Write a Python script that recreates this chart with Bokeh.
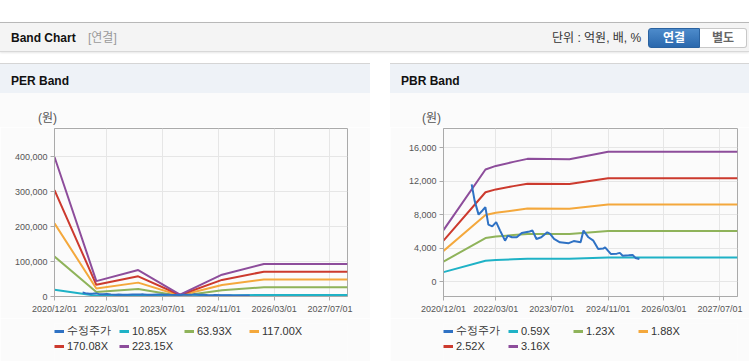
import pandas as pd
from bokeh.plotting import figure
from bokeh.models import (ColumnDataSource, FixedTicker, DatetimeTickFormatter,
                          NumeralTickFormatter, Range1d, Legend, LegendItem, Div)
from bokeh.layouts import column, row
from bokeh.embed import file_html
from bokeh.resources import INLINE

# ---------------- data ----------------
x_tick_dates = ["2020-12-01", "2022-03-01", "2023-07-01", "2024-11-01", "2026-03-01", "2027-07-01"]
x_start, x_end = "2020-12-01", "2027-12-01"

price_dates = ["2021-08-03", "2021-08-28", "2021-10-02", "2021-11-05", "2021-11-30", "2021-12-26",
               "2022-01-29", "2022-03-04", "2022-04-07", "2022-05-20", "2022-06-14", "2022-07-19",
               "2022-08-30", "2022-10-12", "2022-11-15", "2022-12-19", "2023-01-14", "2023-02-17",
               "2023-03-31", "2023-05-22", "2023-06-16", "2023-07-20", "2023-09-09", "2023-11-25",
               "2024-01-07", "2024-03-07", "2024-04-01", "2024-05-14", "2024-06-26", "2024-08-07",
               "2024-09-19", "2024-10-06", "2024-11-26", "2025-01-16", "2025-02-11", "2025-03-08",
               "2025-04-29", "2025-06-02", "2025-06-27", "2025-07-31"]
price_values = [11600, 9700, 8000, 8500, 8900, 6800,
                6600, 7100, 6100, 4900, 5500, 5300,
                5300, 5800, 5900, 6000, 6100, 5100,
                5300, 5900, 5700, 5100, 4700, 4600,
                4850, 4700, 6100, 5300, 4900, 3900,
                3950, 4100, 3300, 3350, 3440, 3100,
                3150, 3200, 2840, 2720]

per_dates = ["2020-12-01", "2021-12-01", "2022-12-01", "2023-12-01", "2024-12-01", "2025-12-01", "2027-12-01"]
per_labels = ["10.85X", "63.93X", "117.00X", "170.08X", "223.15X"]
per_1085 = [19400, 2150, 3700, 300, 3050, 4550, 4550]
per_6393 = [114500, 12600, 21700, 1600, 17900, 26700, 26700]
per_11700 = [209800, 23100, 39800, 2900, 32800, 48900, 48900]
per_17008 = [304900, 33600, 57800, 4300, 47600, 71100, 71100]
per_22315 = [400100, 44100, 75900, 5600, 62500, 93300, 93300]
per_yticks = [0, 100000, 200000, 300000, 400000]

pbr_dates = ["2020-12-01", "2021-12-01", "2022-03-01", "2022-08-01", "2022-12-01", "2023-12-01", "2024-11-01", "2027-12-01"]
pbr_labels = ["0.59X", "1.23X", "1.88X", "2.52X", "3.16X"]
pbr_059 = [1150, 2500, 2580, 2670, 2740, 2730, 2890, 2890]
pbr_123 = [2400, 5210, 5380, 5560, 5700, 5690, 6050, 6050]
pbr_188 = [3680, 7960, 8220, 8500, 8720, 8690, 9220, 9220]
pbr_252 = [4900, 10670, 11010, 11400, 11680, 11650, 12350, 12350]
pbr_316 = [6150, 13380, 13810, 14290, 14650, 14610, 15490, 15490]
pbr_yticks = [0, 4000, 8000, 12000, 16000]

price_label = "수정주가"
unit_label = "(원)"
band_colors = ["#1fb2c6", "#8fb35a", "#f4a83c", "#cc3a2e", "#8d4d9b"]
price_color = "#2f72c4"

FONT = "Liberation Sans"
FF = "'Liberation Sans','Noto Sans CJK KR',sans-serif"
BG = "#fbfbfb"
NAN = float("nan")


def ts(d):
    return pd.Timestamp(d)


def make_chart(width, mb_left, mb_right, y_start, y_end, yticks, dates, bands):
    p = figure(width=width, height=191, x_axis_type="datetime",
               x_range=Range1d(ts(x_start), ts(x_end)), y_range=Range1d(y_start, y_end),
               output_backend="svg", toolbar_location=None,
               min_border_left=mb_left, min_border_right=mb_right,
               min_border_top=1, min_border_bottom=22)
    p.background_fill_color = BG
    p.border_fill_color = BG
    p.outline_line_color = "#aaaaaa"

    tick_ms = [ts(d).value // 10**6 for d in x_tick_dates]
    p.xaxis.ticker = FixedTicker(ticks=tick_ms)
    p.xaxis.formatter = DatetimeTickFormatter(days="%Y/%m/%d", months="%Y/%m/%d", years="%Y/%m/%d")
    p.yaxis.ticker = FixedTicker(ticks=yticks)
    p.yaxis.formatter = NumeralTickFormatter(format="0,0")
    for ax in (p.xaxis[0], p.yaxis[0]):
        ax.axis_line_color = "#aaaaaa"
        ax.major_tick_line_color = "#aaaaaa"
        ax.major_tick_out = 4
        ax.major_tick_in = 0
        ax.minor_tick_out = 0
        ax.minor_tick_in = 0
        ax.major_label_standoff = 3
        ax.major_label_text_font = FONT
        ax.major_label_text_font_size = "9px"
        ax.major_label_text_color = "#555555"
    p.xgrid.ticker = FixedTicker(ticks=tick_ms)
    p.ygrid.ticker = FixedTicker(ticks=yticks)
    p.xgrid.grid_line_color = "#e6e6e6"
    p.ygrid.grid_line_color = "#e6e6e6"

    bsrc = ColumnDataSource(dict(x=[ts(d) for d in dates], **{f"b{i}": b for i, b in enumerate(bands)}))
    for i, c in enumerate(band_colors):
        p.line("x", f"b{i}", source=bsrc, line_color=c, line_width=2)
    psrc = ColumnDataSource(dict(x=[ts(d) for d in price_dates], y=price_values))
    p.line("x", "y", source=psrc, line_color=price_color, line_width=2)
    return p


def make_legend(width, labels):
    lp = figure(width=width, height=43, x_axis_type=None, y_axis_type=None,
                x_range=Range1d(0, 1), y_range=Range1d(0, 1),
                output_backend="svg", toolbar_location=None,
                min_border_left=53, min_border_right=0, min_border_top=5, min_border_bottom=0)
    lp.background_fill_color = BG
    lp.border_fill_color = BG
    lp.outline_line_color = None
    # legend-only renderers: one undefined point each, so nothing is drawn in the frame
    rp = lp.line([0], [NAN], line_color=price_color, line_width=3)
    items = [LegendItem(label=price_label, renderers=[rp])]
    for lab, c in zip(labels, band_colors):
        r = lp.line([0], [NAN], line_color=c, line_width=3)
        items.append(LegendItem(label=lab, renderers=[r]))
    leg = Legend(items=items, orientation="horizontal", ncols=4,
                 location="top_left", margin=0, padding=0, spacing=2,
                 glyph_width=10, glyph_height=12, label_width=50, label_height=12,
                 label_standoff=3, border_line_color=None, background_fill_alpha=0,
                 label_text_font=FONT, label_text_font_size="11px", label_text_color="#333333")
    lp.add_layout(leg, "center")
    return lp


per = make_chart(370, 54, 23, 0, 481700, per_yticks, per_dates,
                 [per_1085, per_6393, per_11700, per_17008, per_22315])
pbr = make_chart(359, 47, 12, -1760, 18270, pbr_yticks, pbr_dates,
                 [pbr_059, pbr_123, pbr_188, pbr_252, pbr_316])
per_leg = make_legend(370, per_labels)
pbr_leg = make_legend(359, pbr_labels)

top_html = f"""
<div style="position:relative;width:749px;height:63px;background:#fff;font-family:{FF};">
  <div style="position:absolute;left:0;top:22px;width:749px;height:30px;box-sizing:border-box;background:#f4f4f4;border-top:1px solid #b8b8b8;border-bottom:1px solid #d8d8d8;box-shadow:0 1px 2px rgba(0,0,0,0.10);"></div>
  <div style="position:absolute;left:11px;top:29px;line-height:18px;font-size:12px;font-weight:bold;color:#111;">Band Chart</div>
  <div style="position:absolute;left:88px;top:29px;line-height:18px;font-size:12px;color:#9a9a9a;">[연결]</div>
  <div style="position:absolute;left:552px;top:29px;line-height:18px;font-size:12px;color:#333;">단위 : 억원, 배, %</div>
  <div style="position:absolute;left:648px;top:28px;width:52px;height:20px;box-sizing:border-box;line-height:18px;text-align:center;font-size:12px;font-weight:bold;color:#fff;background:linear-gradient(#4d8bcb,#2a68ad);border:1px solid #2a62a0;border-radius:3px 0 0 3px;">연결</div>
  <div style="position:absolute;left:700px;top:28px;width:47px;height:20px;box-sizing:border-box;line-height:18px;text-align:center;font-size:12px;font-weight:bold;color:#666;background:#fff;border:1px solid #c8c8c8;border-left:none;border-radius:0 3px 3px 0;">별도</div>
</div>
"""
top_div = Div(text=top_html, width=749, height=63, margin=0)


def header(text, w):
    html = (f'<div style="position:relative;width:{w}px;height:30px;box-sizing:border-box;'
            f'background:#eef2f7;border-top:1px solid #d5d5d5;font-family:{FF};">'
            f'<div style="position:absolute;left:11px;top:8px;line-height:18px;font-size:12px;'
            f'font-weight:bold;color:#111;">{text}</div></div>')
    return Div(text=html, width=w, height=30, margin=0)


def unit_row(w, left):
    html = (f'<div style="position:relative;width:{w}px;height:34px;background:{BG};font-family:{FF};">'
            f'<div style="position:absolute;left:{left}px;top:17px;line-height:16px;font-size:12px;'
            f'color:#555;">{unit_label}</div></div>')
    return Div(text=html, width=w, height=34, margin=0)


def bottom(w):
    html = f'<div style="width:{w}px;height:3px;box-sizing:border-box;border-top:1px solid #d0d0d0;"></div>'
    return Div(text=html, width=w, height=3, margin=0)


left_panel = column(header("PER Band", 370), unit_row(370, 38), per, per_leg, bottom(370), spacing=0)
gap = Div(text="", width=20, height=301, margin=0)
right_panel = column(header("PBR Band", 359), unit_row(359, 32), pbr, pbr_leg, bottom(359), spacing=0)

root = column(top_div, row(left_panel, gap, right_panel, spacing=0), spacing=0)

open("out.html", "w").write(file_html(root, INLINE))
